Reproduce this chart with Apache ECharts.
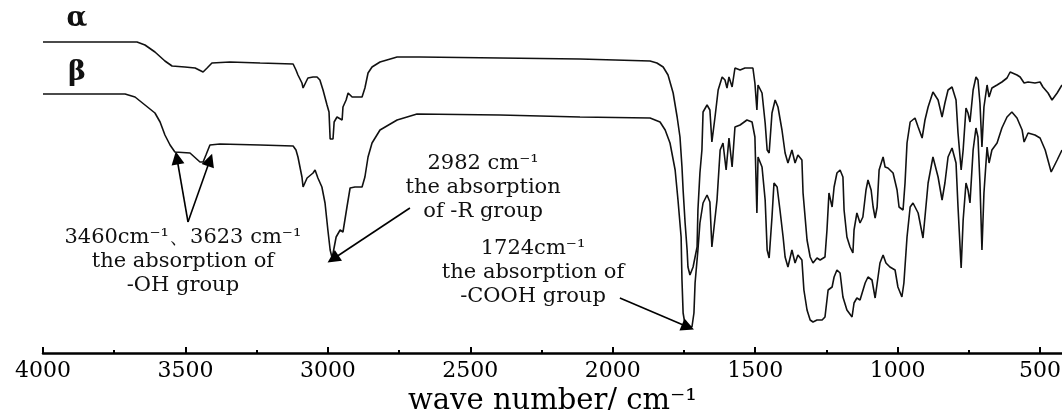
<!DOCTYPE html>
<html>
<head>
<meta charset="utf-8">
<script src="https://cdn.jsdelivr.net/npm/echarts@6.0.0/dist/echarts.min.js"></script>
<style>
  html, body { margin: 0; padding: 0; background: #fff; }
  #chart { width: 1062px; height: 410px; }
</style>
</head>
<body>
<div id="chart"></div>
<script>
// Wavenumber (cm^-1) and transmittance (arbitrary units, traces offset)
const alphaWavenumber = [4000,3670,3642,3607,3572,3547,3502,3466,3438,3424,3407,3344,3238,3122,3112,3105,3091,3087,3077,3070,3052,3038,3028,3021,3017,3003,2996,2992,2982,2978,2968,2950,2947,2936,2929,2915,2880,2870,2859,2845,2817,2757,2677,2396,2115,1869,1845,1823,1806,1788,1774,1764,1757,1753,1746,1739,1736,1729,1722,1718,1704,1701,1694,1687,1683,1669,1659,1652,1645,1641,1630,1616,1606,1599,1592,1581,1571,1553,1536,1508,1501,1494,1490,1476,1465,1458,1451,1441,1430,1420,1406,1395,1385,1371,1360,1350,1336,1332,1318,1307,1297,1283,1272,1255,1248,1241,1230,1223,1213,1202,1192,1188,1178,1167,1157,1153,1143,1132,1122,1111,1104,1093,1086,1079,1072,1065,1051,1044,1034,1016,1002,995,981,974,967,956,939,928,914,904,893,876,858,844,834,823,809,795,788,777,770,760,753,746,735,725,718,711,704,697,686,679,669,651,634,616,605,581,570,556,542,518,500,490,472,458,440,423];
const alphaTransmittance = [311,311,308,301,292,287,286,285,281,285,290,291,290,289,283,278,270,265,271,275,276,276,273,271,263,248,241,214,214,231,236,233,246,253,260,256,256,265,280,286,291,296,296,295,294,292,290,286,278,260,236,216,186,163,130,103,86,78,78,86,106,143,180,203,241,248,243,211,211,236,263,276,273,265,276,266,285,283,285,285,270,243,268,260,230,203,200,240,253,246,223,200,190,203,190,198,193,160,113,96,90,95,93,96,123,160,146,166,180,183,176,143,116,106,100,123,140,130,136,163,173,163,146,135,146,183,196,186,185,180,163,146,143,170,210,231,235,226,215,233,246,261,253,236,250,263,266,253,220,183,203,245,240,231,263,276,273,250,206,246,268,256,265,268,271,275,281,278,276,270,271,270,271,266,260,253,260,268];

const betaWavenumber = [4000,3712,3677,3642,3607,3589,3572,3554,3537,3484,3449,3438,3428,3414,3379,3238,3122,3112,3105,3091,3087,3073,3052,3045,3035,3021,3010,3000,2992,2985,2978,2971,2957,2947,2933,2922,2905,2880,2870,2859,2845,2817,2757,2687,2396,2115,1869,1834,1816,1799,1781,1771,1760,1757,1753,1746,1722,1715,1711,1701,1694,1683,1669,1659,1652,1645,1634,1623,1613,1602,1592,1581,1571,1553,1529,1511,1501,1494,1490,1476,1465,1458,1451,1441,1434,1423,1413,1402,1395,1385,1371,1360,1350,1336,1329,1318,1307,1297,1283,1265,1255,1244,1230,1223,1213,1202,1192,1178,1160,1153,1143,1132,1114,1104,1090,1079,1072,1062,1051,1041,1027,1009,999,985,978,967,956,946,928,911,904,893,876,858,844,834,823,809,795,788,777,770,760,753,746,735,725,718,711,704,697,686,679,669,651,634,616,599,581,563,556,542,518,500,482,461,440,423];
const betaTransmittance = [259,259,256,248,240,231,218,208,201,200,191,191,198,208,209,208,207,203,196,176,166,175,180,183,175,166,150,123,103,95,95,116,123,121,146,165,166,166,176,196,210,223,233,239,238,236,235,231,223,210,183,153,116,73,40,28,26,40,70,103,130,150,158,151,106,106,153,203,210,183,215,186,226,228,233,231,216,140,196,186,153,103,95,136,170,166,143,116,96,86,103,90,98,93,63,43,33,31,33,33,36,63,66,76,83,80,56,43,36,50,55,53,70,76,73,55,56,90,98,90,86,83,66,56,70,116,146,150,140,115,136,170,196,176,153,170,196,205,190,146,85,133,170,163,150,203,225,216,170,103,160,206,190,203,210,225,236,241,235,223,211,220,218,215,203,181,193,203];

const majorTicks = [4000,3500,3000,2500,2000,1500,1000,500];
const minorTicks = [3750,3250,2750,2250,1750,1250,750];

const seriesNames = ['α', 'β'];
const axisTitle = 'wave number/ cm⁻¹';
const annotationTexts = [
  '3460cm⁻¹、3623 cm⁻¹\nthe absorption of\n-OH group',
  '2982 cm⁻¹\nthe absorption\nof -R group',
  '1724cm⁻¹\nthe absorption of\n-COOH group'
];
// anchor positions of labels / arrows in data units [wavenumber, transmittance]
const traceLabelAnchors = [[3881, 334], [3881, 280]];
const annotationAnchors = [[3509, 91], [2455, 165], [2280, 80]];
const arrowStarts = [[3491, 131], [3491, 131], [2712, 145], [1975, 55]];
const arrowEnds = [[3530, 195], [3414, 193], [2982, 94], [1736, 26]];

const zip = (xs, ys) => xs.map((x, i) => [x, ys[i]]);
const SERIF = 'DejaVu Serif';
const ARROW = 'path://M0,0 L9,26 L-9,26 Z';

const chart = echarts.init(document.getElementById('chart'), null, { renderer: 'canvas' });

const hiddenSym = { symbol: 'circle', symbolSize: 1, itemStyle: { color: 'rgba(0,0,0,0)' } };

chart.setOption({
  animation: false,
  backgroundColor: '#fff',
  grid: { left: 43, right: 0, top: 0, bottom: 57, containLabel: false, outerBoundsMode: 'none' },
  xAxis: [{
    type: 'value', min: 423, max: 4000, inverse: true, position: 'bottom',
    axisLine: { onZero: false, lineStyle: { color: '#000', width: 2.5 } },
    axisTick: { show: true, inside: true, length: 6, customValues: majorTicks, lineStyle: { color: '#000', width: 2 } },
    axisLabel: { customValues: majorTicks, margin: 7, fontFamily: SERIF, fontSize: 22, color: '#000',
                 formatter: v => String(v) },
    splitLine: { show: false },
    name: axisTitle, nameLocation: 'middle', nameGap: 30,
    nameTextStyle: { fontFamily: SERIF, fontSize: 29, color: '#000' }
  }, {
    type: 'value', min: 423, max: 4000, inverse: true, position: 'bottom',
    axisLine: { show: false, onZero: false },
    axisTick: { show: true, inside: true, length: 3, customValues: minorTicks, lineStyle: { color: '#000', width: 2 } },
    axisLabel: { show: false },
    splitLine: { show: false }
  }],
  yAxis: { type: 'value', min: 0, max: 353, show: false },
  series: [{
    name: seriesNames[0], type: 'line', xAxisIndex: 0,
    data: zip(alphaWavenumber, alphaTransmittance),
    showSymbol: false, symbol: 'none',
    lineStyle: { color: '#111', width: 1.6 },
    markPoint: {
      silent: true, ...hiddenSym,
      label: { show: true, position: 'inside', formatter: '{b}', fontFamily: SERIF, fontSize: 27, fontWeight: 'bold', color: '#111' },
      data: seriesNames.map((n, i) => ({ name: n, coord: traceLabelAnchors[i] }))
    }
  }, {
    name: seriesNames[1], type: 'line', xAxisIndex: 0,
    data: zip(betaWavenumber, betaTransmittance),
    showSymbol: false, symbol: 'none',
    lineStyle: { color: '#111', width: 1.6 },
    markPoint: {
      silent: true, ...hiddenSym,
      label: { show: true, position: 'inside', formatter: '{b}', fontFamily: SERIF, fontSize: 21, lineHeight: 24, color: '#111', align: 'center' },
      data: annotationTexts.map((t, i) => ({ name: t, coord: annotationAnchors[i] }))
    },
    markLine: {
      silent: true, symbol: ['none', ARROW], symbolSize: 13, symbolOffset: [0, 0],
      label: { show: false },
      itemStyle: { color: '#000' },
      lineStyle: { color: '#000', width: 1.6, type: 'solid' },
      data: arrowStarts.map((s, i) => [{ coord: s }, { coord: arrowEnds[i] }])
    }
  }]
});
</script>
</body>
</html>
